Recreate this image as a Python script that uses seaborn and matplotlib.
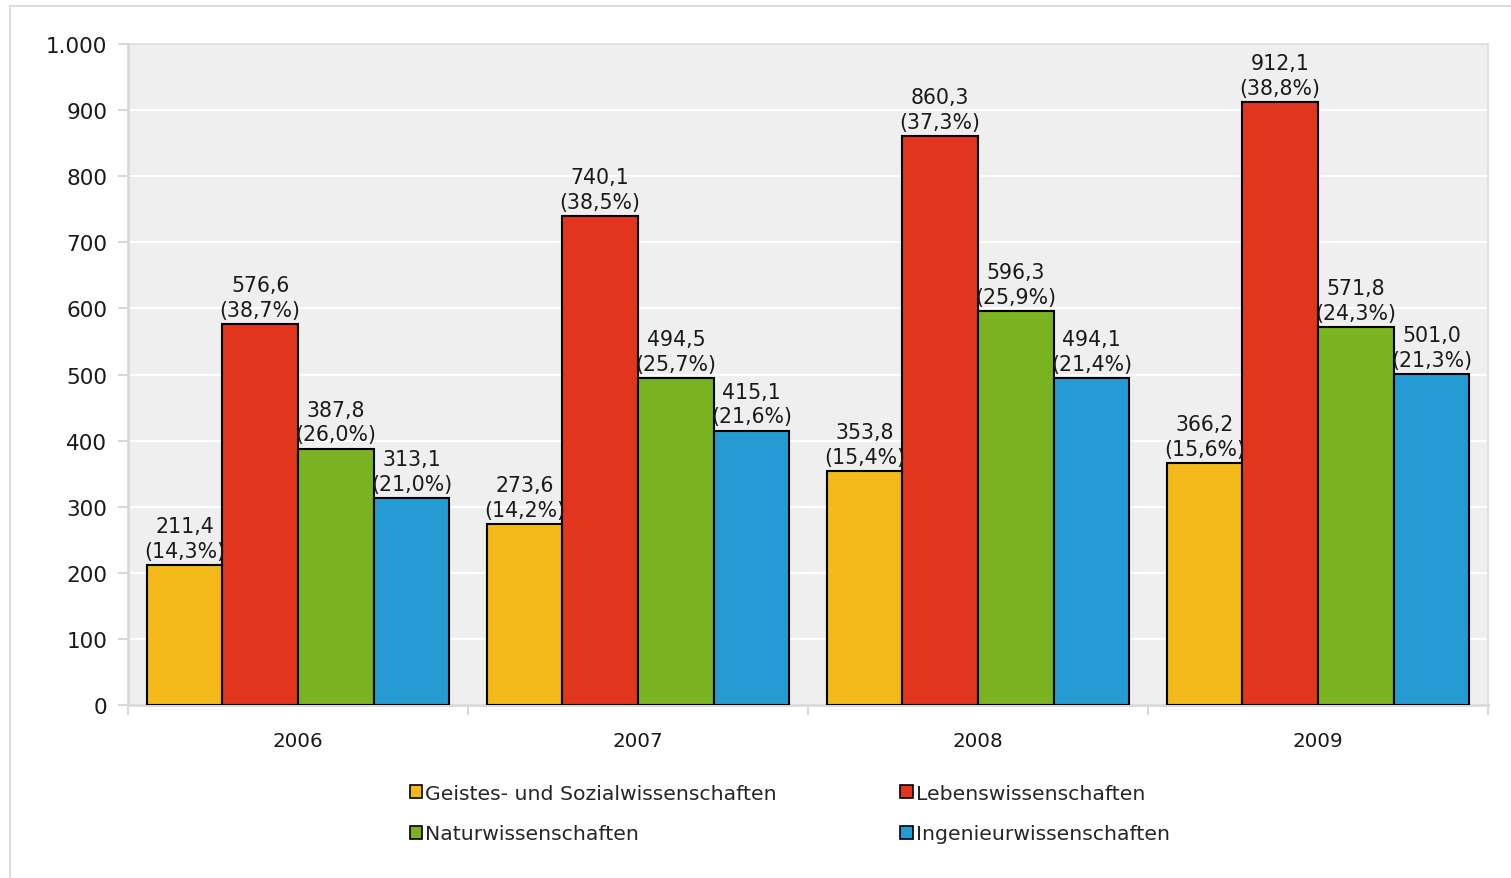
import matplotlib
matplotlib.use("Agg")
import matplotlib.pyplot as plt
import matplotlib.patches as mpatches
import seaborn as sns
import pandas as pd
import numpy as np

years = ["2006", "2007", "2008", "2009"]
fields = ["Geistes- und Sozialwissenschaften", "Lebenswissenschaften",
          "Naturwissenschaften", "Ingenieurwissenschaften"]
geistes = [211.4, 273.6, 353.8, 366.2]
leben = [576.6, 740.1, 860.3, 912.1]
natur = [387.8, 494.5, 596.3, 571.8]
ingenieur = [313.1, 415.1, 494.1, 501.0]
geistes_pct = [14.3, 14.2, 15.4, 15.6]
leben_pct = [38.7, 38.5, 37.3, 38.8]
natur_pct = [26.0, 25.7, 25.9, 24.3]
ingenieur_pct = [21.0, 21.6, 21.4, 21.3]
colors = ["#F5B919", "#E1351D", "#7AB320", "#249BD3"]
yticks = [0, 100, 200, 300, 400, 500, 600, 700, 800, 900, 1000]

values = [geistes, leben, natur, ingenieur]
pcts = [geistes_pct, leben_pct, natur_pct, ingenieur_pct]

rows = []
for f, vals in zip(fields, values):
    for y, v in zip(years, vals):
        rows.append({"Jahr": y, "Bereich": f, "Wert": v})
df = pd.DataFrame(rows)

sns.set_theme(style="white")
plt.rcParams["font.family"] = ["DejaVu Sans"]

fig = plt.figure(figsize=(15.11, 8.79), dpi=100)
ax = fig.add_axes([128/1511, 1-706/879, (1488-128)/1511, (706-45)/879])
ax.set_facecolor("#efefef")

sns.barplot(data=df, x="Jahr", y="Wert", hue="Bereich", order=years,
            hue_order=fields, palette=colors, width=0.89, gap=0,
            edgecolor="black", linewidth=1.5, saturation=1, ax=ax,
            legend=False, zorder=3)

def fmt(v):
    return f"{v:.1f}".replace(".", ",")

for cont, vals, pc in zip(ax.containers, values, pcts):
    labels = [f"{fmt(v)}\n({fmt(p)}%)" for v, p in zip(vals, pc)]
    ax.bar_label(cont, labels=labels, padding=3, fontsize=14.8,
                 color="#1a1a1a", linespacing=1.3)

ax.set_ylim(0, 1000)
ax.set_xlim(-0.5, 3.5)
ax.set_yticks(yticks)
ax.set_yticklabels([f"{t:,}".replace(",", ".") for t in yticks])
ax.yaxis.grid(True, color="white", linewidth=1.5, zorder=0)
ax.set_axisbelow(True)

ax.set_xticks([-0.5, 0.5, 1.5, 2.5, 3.5])
ax.set_xticklabels([])
ax.set_xticks(range(len(years)), minor=True)
ax.set_xticklabels(years, minor=True)
ax.tick_params(axis="x", which="major", length=7, width=1.5, color="#d9d9d9",
               direction="out", bottom=True)
ax.tick_params(axis="x", which="minor", length=0, pad=19, labelsize=14.3,
               labelcolor="#1a1a1a")
ax.tick_params(axis="y", length=7, width=1.5, color="#d9d9d9", pad=8,
               labelsize=15.5, labelcolor="#1a1a1a", left=True)
ax.set_xlabel("")
ax.set_ylabel("")
for s in ["left", "bottom"]:
    ax.spines[s].set_color("#d9d9d9")
    ax.spines[s].set_linewidth(2)
for s in ["top", "right"]:
    ax.spines[s].set_color("#dddddd")
    ax.spines[s].set_linewidth(1.2)

handles = [mpatches.Patch(facecolor=c, edgecolor="black", linewidth=1.2, label=f)
           for c, f in zip(colors, fields)]
order = [0, 2, 1, 3]
fig.legend([handles[i] for i in order], [fields[i] for i in order],
           ncol=2, loc="upper left", bbox_to_anchor=(410/1511, 1-785/879),
           frameon=False, fontsize=14.7, handlelength=0.6, handleheight=0.6,
           handletextpad=0.15, columnspacing=6.05, labelspacing=1.05,
           borderaxespad=0, borderpad=0)

border = mpatches.Rectangle((10/1511, -0.01), 1.02, 1-7/879+0.01,
                            transform=fig.transFigure, fill=False,
                            edgecolor="#dddddd", linewidth=1.5)
fig.patches.append(border)

fig.savefig("out.png", dpi=100)
